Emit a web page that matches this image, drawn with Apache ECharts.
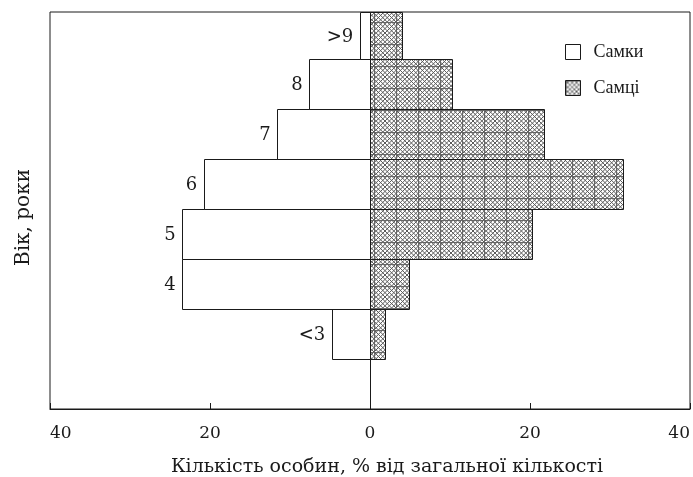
<!DOCTYPE html>
<html><head><meta charset="utf-8">
<script src="https://cdn.jsdelivr.net/npm/echarts@6/dist/echarts.min.js"></script>
<style>html,body{margin:0;padding:0;background:#fff}#c{width:693px;height:477px}</style>
</head><body><div id="c"></div>
<script>
const ageLabels = ['<3', '4', '5', '6', '7', '8', '>9'];
const females = [4.8, 23.5, 23.5, 20.8, 11.6, 7.6, 1.2];
const males = [1.9, 4.9, 20.3, 31.6, 21.7, 10.2, 4.0];
const xTicks = [-40, -20, 0, 20, 40];
const seriesNames = ['Самки', 'Самці'];
const xAxisName = 'Кількість особин, % від загальної кількості';
const yAxisName = 'Вік, роки';

const FONT = 'DejaVu Serif';
const FONT2 = 'Liberation Serif';
const TXT = '#1a1a1a';

function makePattern() {
  const s = 22;
  const c = document.createElement('canvas');
  c.width = s; c.height = s;
  const g = c.getContext('2d');
  g.fillStyle = '#fff'; g.fillRect(0, 0, s, s);
  g.strokeStyle = '#5a5a5a'; g.lineWidth = 1;
  const step = s / 5;
  g.beginPath();
  for (let k = -s; k <= 2 * s; k += step) {
    g.moveTo(k, 0); g.lineTo(k + s, s);
    g.moveTo(k, s); g.lineTo(k + s, 0);
  }
  g.stroke();
  g.strokeStyle = '#666'; g.lineWidth = 1;
  g.beginPath();
  g.moveTo(0.5, 0); g.lineTo(0.5, s);
  g.moveTo(0, 0.5); g.lineTo(s, 0.5);
  g.stroke();
  return c;
}
const hatch = { image: makePattern(), repeat: 'repeat' };

const yMax = 7.94; // grid height 397px, 50px per slot

function crisp(v) { return Math.round(v) + 0.5; }

function barRender(fill) {
  return function (params, api) {
    const slot = api.value(0), v = api.value(1);
    const p0 = api.coord([0, slot]);
    const p1 = api.coord([v, slot + 1]);
    const cs = params.coordSys;
    const x0 = crisp(Math.min(p0[0], p1[0])), x1 = crisp(Math.max(p0[0], p1[0]));
    const y0 = crisp(Math.min(p0[1], p1[1])), y1 = crisp(Math.max(p0[1], p1[1]));
    const r = echarts.graphic.clipRectByRect(
      { x: x0, y: y0, width: x1 - x0, height: y1 - y0 },
      { x: cs.x, y: cs.y + 0.5, width: cs.width, height: cs.height });
    if (!r) return null;
    return { type: 'rect', shape: r, style: { fill: fill, stroke: '#1a1a1a', lineWidth: 1 } };
  };
}

const femaleData = females.map((v, i) => [i + 1, -v]);
const maleData = males.map((v, i) => [i + 1, v]);
const labelData = ageLabels.map((t, i) => [i + 1, Math.min(-2.1, -females[i] - 0.8), t]);

const chart = echarts.init(document.getElementById('c'), null, { renderer: 'canvas' });
chart.setOption({
  animation: false,
  backgroundColor: '#fff',
  textStyle: { fontFamily: FONT, color: TXT },
  grid: { left: 50, right: 3, top: 12, bottom: 68, outerBoundsMode: 'none', containLabel: false, show: true, borderColor: '#1a1a1a', borderWidth: 1, backgroundColor: 'transparent' },
  legend: {
    orient: 'vertical', left: 560, top: 38, itemGap: 18, itemWidth: 15, itemHeight: 15,
    icon: 'rect',
    textStyle: { fontFamily: FONT2, fontSize: 18, color: TXT, padding: [0, 0, 0, 8] },
    data: [
      { name: seriesNames[0], itemStyle: { color: '#fff', borderColor: '#1a1a1a', borderWidth: 1 } },
      { name: seriesNames[1], itemStyle: { color: hatch, borderColor: '#1a1a1a', borderWidth: 1 } }
    ]
  },
  xAxis: {
    type: 'value', min: xTicks[0], max: xTicks[xTicks.length - 1], interval: 20,
    name: xAxisName, nameLocation: 'middle', nameGap: 49,
    nameTextStyle: { fontFamily: FONT, fontSize: 19, color: TXT, padding: [0, 0, 0, 34] },
    axisLine: { show: true, onZero: false, lineStyle: { color: '#1a1a1a', width: 1 } },
    axisTick: { show: true, inside: true, length: 6, lineStyle: { color: '#1a1a1a' } },
    axisLabel: { fontFamily: FONT, fontSize: 17, color: TXT, margin: 16, alignMinLabel: 'left', alignMaxLabel: 'right', formatter: v => String(Math.abs(v)) },
    splitLine: { show: false }
  },
  yAxis: {
    type: 'value', min: 0, max: yMax,
    name: yAxisName, nameLocation: 'middle', nameGap: 16, nameRotate: 90,
    nameTextStyle: { fontFamily: FONT, fontSize: 20, color: TXT, padding: [0, 14, 0, 0] },
    axisLine: { show: false, onZero: false }, axisTick: { show: false },
    axisLabel: { show: false }, splitLine: { show: false }
  },
  series: [
    {
      type: 'custom', name: 'zero', z: 1, silent: true,
      data: [[0]],
      renderItem: function (params, api) {
        const a = api.coord([0, 0]), b = api.coord([0, yMax]);
        const x = crisp(a[0]);
        return { type: 'line', shape: { x1: x, y1: a[1], x2: x, y2: b[1] }, style: { stroke: '#1a1a1a', lineWidth: 1 } };
      }
    },
    { type: 'custom', name: seriesNames[0], z: 2, itemStyle: { color: '#fff' }, data: femaleData, renderItem: barRender('#fff') },
    { type: 'custom', name: seriesNames[1], z: 2, itemStyle: { color: hatch }, data: maleData, renderItem: barRender(hatch) },
    {
      type: 'custom', name: 'labels', z: 3, silent: true,
      data: labelData,
      renderItem: function (params, api) {
        const slot = api.value(0), x = api.value(1);
        const p = api.coord([x, slot + 0.5]);
        const dy = slot === 7 ? 3 : 1;
        return { type: 'text', style: { text: labelData[params.dataIndex][2], x: p[0], y: p[1] + dy, align: 'right', verticalAlign: 'middle', font: '18px "' + FONT + '"', fill: TXT } };
      }
    }
  ]
});
</script>
</body></html>
